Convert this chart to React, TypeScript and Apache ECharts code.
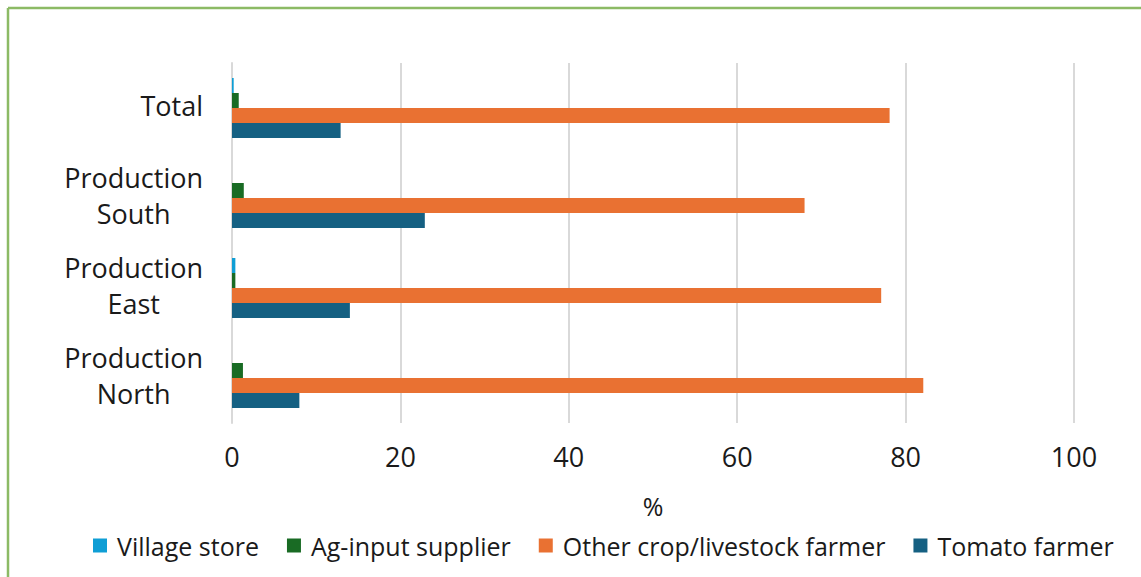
import React, { useEffect, useRef } from "react";
import * as echarts from "echarts";

const categories = ["Total", "Production\nSouth", "Production\nEast", "Production\nNorth"];
const seriesNames = ["Village store", "Ag-input supplier", "Other crop/livestock farmer", "Tomato farmer"];
const villageStore = [0.2, 0, 0.4, 0];
const agInput = [0.8, 1.4, 0.4, 1.3];
const otherFarmer = [78.1, 68.0, 77.1, 82.1];
const tomatoFarmer = [12.9, 22.9, 14.0, 8.0];
const colors = ["#0F9ED5", "#196B24", "#E97132", "#156082"];
const xTicks = [0, 20, 40, 60, 80, 100];

export default function App() {
  const ref = useRef<HTMLDivElement>(null);
  useEffect(() => {
    const chart = echarts.init(ref.current!, undefined, { renderer: "svg" });
    const font = "'Open Sans', 'Noto Sans', sans-serif";
    const values = [villageStore, agInput, otherFarmer, tomatoFarmer];
    chart.setOption({
      animation: false,
      textStyle: { fontFamily: font },
      grid: { left: 232, right: 67, top: 63, bottom: 154, containLabel: false },
      xAxis: {
        type: "value",
        min: xTicks[0],
        max: xTicks[xTicks.length - 1],
        interval: 20,
        name: "%",
        nameLocation: "middle",
        nameGap: 70,
        nameTextStyle: { fontSize: 25, color: "#1a1a1a", fontFamily: font },
        axisLine: { show: false },
        axisTick: { show: false },
        axisLabel: { fontSize: 27, color: "#1a1a1a", margin: 20, fontFamily: font },
        splitLine: { lineStyle: { color: "#d9d9d9", width: 2 } },
      },
      yAxis: {
        type: "category",
        inverse: true,
        data: categories,
        axisLine: { show: true, lineStyle: { color: "#d9d9d9", width: 2 } },
        axisTick: { show: false },
        axisLabel: {
          color: "#1a1a1a",
          margin: 29,
          align: "right",
          fontFamily: font,
          padding: [0, 0, 6, 0],
          formatter: (v: string) =>
            v
              .split("\n")
              .map((line) => `{c|${line}}`)
              .join("\n"),
          rich: {
            c: { fontSize: 27, lineHeight: 36, align: "center", color: "#1a1a1a", fontFamily: font },
          },
        },
      },
      legend: {
        top: 528,
        left: 88,
        itemWidth: 14,
        itemHeight: 14,
        itemGap: 28,
        icon: "rect",
        textStyle: { fontSize: 25, color: "#1a1a1a", fontFamily: font, padding: [0, 0, 0, 5] },
        data: seriesNames,
      },
      graphic: [
        { type: "line", shape: { x1: 8, y1: 8, x2: 1141, y2: 8 }, style: { stroke: "#8cba65", lineWidth: 2.5 } },
        { type: "line", shape: { x1: 8, y1: 8, x2: 8, y2: 577 }, style: { stroke: "#8cba65", lineWidth: 2.5 } },
      ],
      series: seriesNames.map((name, i) => ({
        name,
        type: "bar",
        data: values[i],
        barGap: "0%",
        barCategoryGap: "33.3%",
        itemStyle: { color: colors[i] },
      })),
    });
    return () => chart.dispose();
  }, []);
  return (
    <div
      ref={ref}
      style={{ position: "fixed", left: 0, top: 0, width: 1141, height: 577, background: "#fff" }}
    />
  );
}
